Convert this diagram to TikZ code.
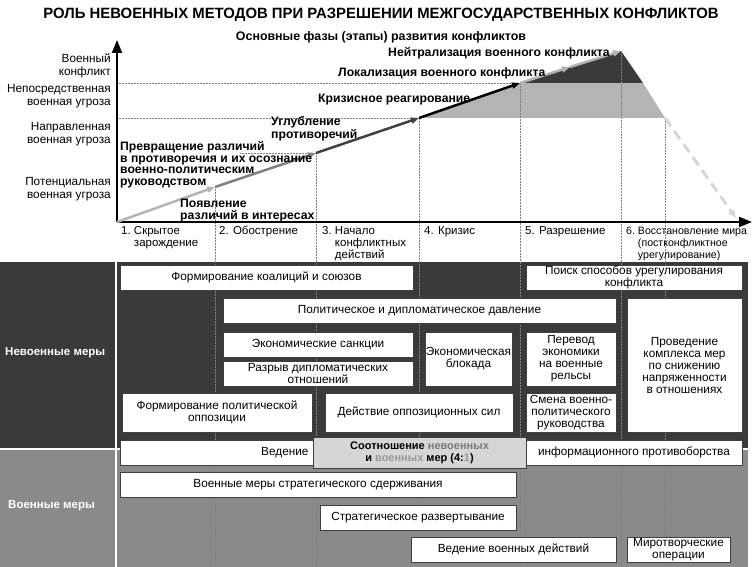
\documentclass[tikz,border=0pt]{standalone}
\usepackage{fontspec}
\setmainfont{Liberation Sans}
\usetikzlibrary{arrows.meta}

\definecolor{temnyj}{HTML}{3A3A3A}
\definecolor{srednij}{HTML}{8A8A8A}
\definecolor{svetlyj}{HTML}{B4B4B4}
\definecolor{blednyj}{HTML}{D6D6D6}
\definecolor{serText}{HTML}{7A7A7A}

\begin{document}
\begin{tikzpicture}[x=1pt,y=-1pt,>={Triangle[length=8pt,width=6pt]},
    os/.style={line width=2pt,-{Triangle[length=13pt,width=10pt]}},
    setka/.style={densely dotted,gray,line width=0.5pt},
    metka/.style={font=\fontsize{12.2}{11.5}\selectfont\bfseries,align=left,inner sep=0pt},
    uroven/.style={font=\fontsize{11.8}{13}\selectfont,align=right,anchor=east,inner sep=0pt},
    faza/.style={font=\fontsize{11.5}{12}\selectfont,anchor=north west,inner sep=0pt},
    mera/.style={draw=black!75,fill=white,line width=0.6pt,align=center,inner sep=1pt,
      font=\fontsize{11.8}{12}\selectfont},
    gruppa/.style={font=\fontsize{11.5}{12}\selectfont\bfseries,text=white,anchor=west,inner sep=0pt}
  ]
    \useasboundingbox (0,0) rectangle (752,567);

    % zagolovki
    \node[font=\fontsize{14.9}{16}\selectfont\bfseries] (zag) at (381,15)
      {РОЛЬ НЕВОЕННЫХ МЕТОДОВ ПРИ РАЗРЕШЕНИИ МЕЖГОСУДАРСТВЕННЫХ КОНФЛИКТОВ};
    \node[font=\fontsize{12.4}{13}\selectfont\bfseries] (podzag) at (381,37)
      {Основные фазы (этапы) развития конфликтов};

    % nizhnyaya panel'
    \fill[temnyj] (0,262) rectangle (748,448);
    \fill[srednij] (0,450) rectangle (748,567);
    \draw[white,line width=2pt] (116,262) -- (116,567);

    % tochki krivoj
    \coordinate (t0) at (117,222);
    \coordinate (t1) at (215,187);
    \coordinate (t2) at (316,153);
    \coordinate (t3) at (419,118);
    \coordinate (t4) at (520,83);
    \coordinate (t5) at (570,67);
    \coordinate (t6) at (621,51);
    \coordinate (v1) at (643,83);
    \coordinate (v2) at (665,118);
    \coordinate (v3) at (736,218);

    \fill[svetlyj] (t3) -- (t4) -- (v1) -- (v2) -- cycle;
    \fill[temnyj] (t4) -- (t6) -- (v1) -- cycle;

    % setka
    \draw[setka] (117,83) -- (t4) (117,118) -- (t3) (240,153) -- (t2);
    \foreach \x/\y in {215/187,316/153,419/118,520/83,621/51,665/118}
      \draw[setka] (\x,\y) -- (\x,567);

    % osi
    \coordinate (nach) at (117,222);
    \coordinate (verh) at (117,40);
    \coordinate (prav) at (752,222);
    \draw[os] (nach) -- (verh);
    \draw[os] (nach) -- (prav);

    % krivaya
    \path (t0) edge[->,line width=2.5pt,svetlyj]   (t1)
          (t1) edge[->,line width=2.5pt,gray]      (t2)
          (t2) edge[->,line width=2.5pt,black!75]  (t3)
          (t3) edge[->,line width=2.5pt,black]     (t4)
          (t4) edge[->,line width=2.5pt,svetlyj]   (t5)
          (t5) edge[->,line width=2.5pt,svetlyj]   (t6)
          (v2) edge[->,line width=3pt,blednyj,dash pattern=on 10pt off 6pt] (v3);

    % podpisi krivoj
    \node[metka,anchor=west] (nejtr) at (388,53) {Нейтрализация военного конфликта};
    \node[metka,anchor=west] (lokal) at (338,73) {Локализация военного конфликта};
    \node[metka,anchor=west] (kriz) at (318,100) {Кризисное реагирование};
    \node[metka,anchor=west] (uglub) at (271,128.5) {Углубление\\противоречий};
    \node[metka,anchor=west] (prevr) at (120,164.5)
      {Превращение различий\\в противоречия и их осознание\\военно-политическим\\руководством};
    \node[metka,anchor=west] (poyav) at (180,210.5) {Появление\\различий в интересах};

    % urovni
    \node[uroven] (u1) at (111,66) {Военный\\конфликт};
    \node[uroven] (u2) at (111,96.5) {Непосредственная\\военная угроза};
    \node[uroven] (u3) at (111,134) {Направленная\\военная угроза};
    \node[uroven] (u4) at (111,189) {Потенциальная\\военная угроза};

    % fazy
    \node[faza] (f1) at (121,226) {\begin{tabular}{@{}l@{~}l@{}}1.&Скрытое\\&зарождение\end{tabular}};
    \node[faza] (f2) at (219,226) {2. Обострение};
    \node[faza] (f3) at (322,226) {\begin{tabular}{@{}l@{~}l@{}}3.&Начало\\&конфликтных\\&действий\end{tabular}};
    \node[faza] (f4) at (424,226) {4. Кризис};
    \node[faza] (f5) at (525,226) {5. Разрешение};
    \node[faza,font=\fontsize{10.6}{12}\selectfont] (f6) at (626,226)
      {\begin{tabular}{@{}l@{~}l@{}}6.&Восстановление мира\\&(постконфликтное\\&урегулирование)\end{tabular}};

    % gruppy mer
    \node[gruppa] (nevoen) at (5,353) {Невоенные меры};
    \node[gruppa] (voen) at (8,506) {Военные меры};

    % nevoennye mery
    \node[mera,minimum width=293pt,minimum height=25pt] (koal) at (266.5,277.5) {Формирование коалиций и союзов};
    \node[mera,minimum width=216pt,minimum height=25pt] (poisk) at (634,277.5) {Поиск способов урегулирования\\конфликта};
    \node[mera,minimum width=393pt,minimum height=25pt] (polit) at (419.5,310.5) {Политическое и дипломатическое давление};
    \node[mera,minimum width=115pt,minimum height=134pt] (snizh) at (684.5,365)
      {Проведение\\комплекса мер\\по снижению\\напряженности\\в отношениях};
    \node[mera,minimum width=190pt,minimum height=25pt] (sankc) at (318,344.5) {Экономические санкции};
    \node[mera,minimum width=190pt,minimum height=25pt] (razryv) at (318,373.5) {Разрыв дипломатических\\отношений};
    \node[mera,minimum width=87pt,minimum height=54pt] (blok) at (468.5,359) {Экономическая\\блокада};
    \node[mera,minimum width=90pt,minimum height=54pt] (perev) at (571,359) {Перевод\\экономики\\на военные\\рельсы};
    \node[mera,minimum width=190pt,minimum height=39pt] (oppoz) at (217,412.5) {Формирование политической\\оппозиции};
    \node[mera,minimum width=188pt,minimum height=39pt] (dejstv) at (419,412.5) {Действие оппозиционных сил};
    \node[mera,minimum width=90pt,minimum height=39pt] (smena) at (571,412.5) {Смена военно-\\политического\\руководства};

    % informacionnoe protivoborstvo
    \node[mera,minimum width=193pt,minimum height=25pt,text width=184pt,align=right] (veden) at (216.5,452.5) {Ведение};
    \node[mera,minimum width=216pt,minimum height=25pt] (inform) at (634,452.5) {информационного противоборства};
    \node[mera,fill=blednyj,minimum width=213pt,minimum height=31pt,font=\fontsize{11}{12}\selectfont\bfseries] (sootn) at (419.5,452.5)
      {Соотношение \textcolor{serText}{невоенных}\\и \textcolor{gray!80}{военных} мер (4:\textcolor{gray!80}{1})};

    % voennye mery
    \node[mera,minimum width=396pt,minimum height=25pt] (sderzh) at (318,484.5) {Военные меры стратегического сдерживания};
    \node[mera,minimum width=196pt,minimum height=25pt] (razvert) at (418,517.5) {Стратегическое развертывание};
    \node[mera,minimum width=205pt,minimum height=25pt] (vedvoen) at (513.5,549.5) {Ведение военных действий};
    \node[mera,minimum width=103pt,minimum height=25pt] (mir) at (678.5,549.5) {Миротворческие\\операции};
  \end{tikzpicture}
\end{document}
